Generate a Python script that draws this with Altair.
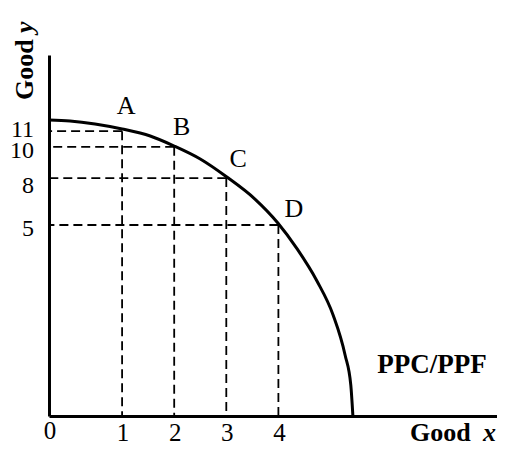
import altair as alt
import pandas as pd

# ---- data (schematic units of the drawing) ----
curve_x = [-0.40, 0.00, 0.48, 1.00, 1.54, 2.00, 2.50, 3.01, 3.55, 3.99, 4.36, 4.74, 5.05, 5.28, 5.39, 5.43]
curve_y = [11.71, 11.65, 11.46, 11.14, 10.69, 10.05, 9.22, 8.07, 6.66, 5.13, 3.47, 1.42, -0.75, -3.31, -5.24, -7.21]

point_names = ["A", "B", "C", "D"]
point_x = [1, 2, 3, 4]
point_y = [11, 10, 8, 5]

x_ticks = [1, 2, 3, 4]
y_ticks = [11, 10, 8, 5]

# ---- styling / layout ----
W, H = 448, 361
X_DOMAIN = [-0.403, 8.196]
Y_DOMAIN = [-7.21, 15.87]
FONT = "Liberation Serif"

xs = alt.Scale(domain=X_DOMAIN, nice=False, zero=False)
ys = alt.Scale(domain=Y_DOMAIN, nice=False, zero=False)

curve = pd.DataFrame({"x": curve_x, "y": curve_y})
pts = pd.DataFrame({"name": point_names, "x": point_x, "y": point_y})
xt = pd.DataFrame({"v": x_ticks, "lab": [str(v) for v in x_ticks]})
yt = pd.DataFrame({"v": y_ticks, "lab": [str(v) for v in y_ticks]})

dash = dict(strokeDash=[9, 5], strokeWidth=1.8, color="black")

hlines = alt.Chart(pts).mark_rule(**dash).encode(
    x=alt.X("x:Q", scale=xs, title=None),
    x2=alt.value(0),
    y=alt.Y("y:Q", scale=ys, title=None),
)
vlines = alt.Chart(pts).mark_rule(**dash).encode(
    x=alt.X("x:Q", scale=xs, title=None),
    y=alt.Y("y:Q", scale=ys, title=None),
    y2=alt.value(H),
)
line = alt.Chart(curve).mark_line(color="black", strokeWidth=3, interpolate="monotone").encode(
    x=alt.X("x:Q", scale=xs, title=None),
    y=alt.Y("y:Q", scale=ys, title=None),
    order=alt.Order("x:Q"),
)

layers = [hlines, vlines, line]

# point labels A-D
pt_off = {"A": (4, -17), "B": (7.5, -12), "C": (12, -11), "D": (15.5, -8)}
for n in point_names:
    dx, dy = pt_off[n]
    layers.append(
        alt.Chart(pts[pts["name"] == n]).mark_text(
            font=FONT, fontSize=26, align="center", baseline="alphabetic", dx=dx, dy=dy, color="black"
        ).encode(x=alt.X("x:Q", scale=xs, title=None), y=alt.Y("y:Q", scale=ys, title=None), text="name:N")
    )

# x tick labels
layers.append(
    alt.Chart(xt).mark_text(font=FONT, fontSize=25, align="center", baseline="alphabetic", dx=1, color="black").encode(
        x=alt.X("v:Q", scale=xs, title=None), y=alt.value(386), text="lab:N"
    )
)
# y tick labels
y_off = {11: 6, 10: 11, 8: 15, 5: 11}
for v in y_ticks:
    layers.append(
        alt.Chart(yt[yt["v"] == v]).mark_text(
            font=FONT, fontSize=24, align="right", baseline="alphabetic", dy=y_off[v], color="black"
        ).encode(x=alt.value(-15), y=alt.Y("v:Q", scale=ys, title=None), text="lab:N")
    )

# annotation texts
def txt(s, x, y, size=26, weight="bold", style="normal", align="left", angle=0):
    return alt.Chart(pd.DataFrame({"t": [s]})).mark_text(
        font=FONT, fontSize=size, fontWeight=weight, fontStyle=style, align=align,
        baseline="alphabetic", angle=angle, color="black"
    ).encode(x=alt.value(x), y=alt.value(y), text="t:N")

layers += [
    txt("0", 1, 384, size=25, weight="normal", align="center"),
    txt("Good", 361, 386),
    txt("x", 434, 386, style="italic"),
    txt("PPC/PPF", 383, 318, size=27, align="center"),
    txt("Good", -16, 45, angle=270),
    txt("y", -16, -22, style="italic", angle=270),
]

chart = alt.layer(*layers).properties(
    width=W, height=H,
    autosize=alt.AutoSizeParams(type="none"),
    padding={"left": 41, "top": 47, "right": 0, "bottom": 31},
).configure_axis(
    labels=False, ticks=False, grid=False, domainWidth=3, domainColor="black"
).configure_view(stroke=None)

chart.save("out.html", embed_options={"renderer": "svg", "actions": False})
